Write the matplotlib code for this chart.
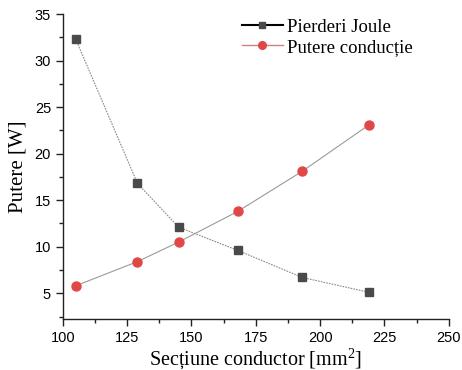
import matplotlib
matplotlib.use("Agg")
import matplotlib.pyplot as plt
from matplotlib.lines import Line2D
from matplotlib.ticker import MultipleLocator

plt.rcParams["mathtext.fontset"] = "custom"
plt.rcParams["mathtext.rm"] = "Liberation Serif"
plt.rcParams["mathtext.it"] = "Liberation Serif:italic"

sectiune = [105, 129, 145, 168, 193, 219]
pierderi_joule = [32.3, 16.8, 12.1, 9.6, 6.7, 5.1]
putere_conductie = [5.8, 8.4, 10.5, 13.8, 18.1, 23.1]

fig = plt.figure(figsize=(4.62, 3.70), dpi=100)
ax = fig.add_axes([0.136, 0.137, 0.8355, 0.825])

ax.plot(sectiune, pierderi_joule, color="#8a8a8a", lw=0.8, ls=(0, (1.5, 1)),
        marker="s", ms=6, mfc="#4a4a4a", mec="#4a4a4a", zorder=3)
ax.plot(sectiune, putere_conductie, color="#9a9a9a", lw=0.8, ls="-",
        marker="o", ms=6.5, mfc="#e04848", mec="#e04848", zorder=3)

ax.set_xlim(100, 250)
ax.set_ylim(2.2, 35)
ax.xaxis.set_major_locator(MultipleLocator(25))
ax.xaxis.set_minor_locator(MultipleLocator(12.5))
ax.yaxis.set_major_locator(MultipleLocator(5))
ax.yaxis.set_minor_locator(MultipleLocator(2.5))
ax.tick_params(which="major", direction="out", length=5, width=1, labelsize=10.5, color="#222222")
ax.tick_params(which="minor", direction="out", length=3, width=1, color="#222222")
for lab in ax.get_xticklabels() + ax.get_yticklabels():
    lab.set_fontfamily("Liberation Sans")
ax.spines["top"].set_visible(False)
ax.spines["right"].set_visible(False)
for s in ("left", "bottom"):
    ax.spines[s].set_linewidth(1)
    ax.spines[s].set_color("#222222")

ax.set_xlabel("Secțiune conductor [mm$^{\\mathrm{2}}$]", fontfamily="Liberation Serif", fontsize=14.5, labelpad=1)
ax.set_ylabel("Putere [W]", fontfamily="Liberation Serif", fontsize=15, labelpad=5)

handles = [
    Line2D([], [], color="black", lw=1.5, marker="s", ms=5, mfc="#4a4a4a", mec="#4a4a4a"),
    Line2D([], [], color="#d08080", lw=1, marker="o", ms=5.5, mfc="#e04848", mec="#e04848"),
]
ax.legend(handles, ["Pierderi Joule", "Putere conducție"], loc="upper left",
          bbox_to_anchor=(0.42, 1.04), frameon=False, handlelength=2.2,
          handletextpad=0.2, labelspacing=0.15,
          prop={"family": "Liberation Serif", "size": 13.5})

fig.savefig("out.png", dpi=100)
